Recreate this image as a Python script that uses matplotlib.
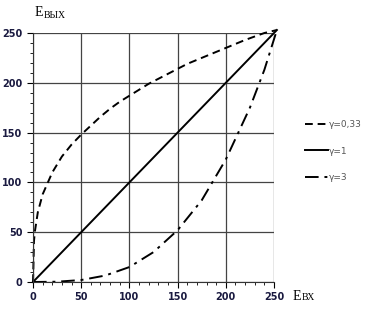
import matplotlib.pyplot as plt
from matplotlib.ticker import MultipleLocator

# values
x_033 = [0, 1, 2, 5, 10, 20, 30, 40, 50, 60, 70, 80, 90, 100, 120, 140, 160, 180, 200, 220, 240, 253]
y_033 = [0, 41, 51, 70, 88, 110, 126, 138, 148, 157, 166, 174, 181, 187, 199, 209, 219, 227, 235, 243, 250, 253]

x_1 = [0, 253]
y_1 = [0, 253]

x_3 = [0, 25, 50, 75, 100, 125, 150, 175, 200, 225, 240, 253]
y_3 = [0, 0.3, 2, 6.5, 15, 30, 52, 82, 123, 175, 213, 253]

fig = plt.figure(figsize=(3.74, 3.09), dpi=100)
ax = fig.add_axes([33/374, 27/309, 241/374, 249/309])

ax.plot(x_033, y_033, color='black', lw=1.4, ls=(0, (4, 2.5)), label='γ=0,33', clip_on=False)
ax.plot(x_1, y_1, color='black', lw=1.4, ls='-', label='γ=1', clip_on=False)
ax.plot(x_3, y_3, color='black', lw=1.4, ls=(0, (7, 3, 1.5, 3)), label='γ=3', clip_on=False)

ax.set_xlim(0, 250)
ax.set_ylim(0, 250)
ax.xaxis.set_major_locator(MultipleLocator(50))
ax.yaxis.set_major_locator(MultipleLocator(50))
ax.xaxis.set_minor_locator(MultipleLocator(10))
ax.yaxis.set_minor_locator(MultipleLocator(10))
ax.grid(True, which='major', color='#444444', lw=0.9)
ax.tick_params(which='both', direction='out', colors='black', labelsize=7)
ax.tick_params(which='major', length=4)
ax.tick_params(which='minor', length=2.5)
for lab in ax.get_xticklabels() + ax.get_yticklabels():
    lab.set_fontweight('bold')
    lab.set_color('#1a1a40')
for s in ['top', 'right']:
    ax.spines[s].set_visible(False)
ax.spines['left'].set_color('#333333')
ax.spines['bottom'].set_color('#333333')

fig.text(35/374, 1 - 13/309, 'E', family='Liberation Serif', fontsize=10, va='center')
fig.text(44/374, 1 - 15/309, 'ВЫХ', family='Liberation Serif', fontsize=7, va='center')
fig.text(293/374, 1 - 296/309, 'E', family='Liberation Serif', fontsize=10, va='center')
fig.text(302/374, 1 - 298/309, 'ВХ', family='Liberation Serif', fontsize=7, va='center')

leg = ax.legend(loc='center left', bbox_to_anchor=(300/374, 1 - 151/309), bbox_transform=fig.transFigure,
                frameon=False, fontsize=6.5, handlelength=2.6, handletextpad=0.1, labelspacing=1.95,
                borderpad=0)
for t in leg.get_texts():
    t.set_color('#555555')

fig.savefig('out.png', dpi=100)
